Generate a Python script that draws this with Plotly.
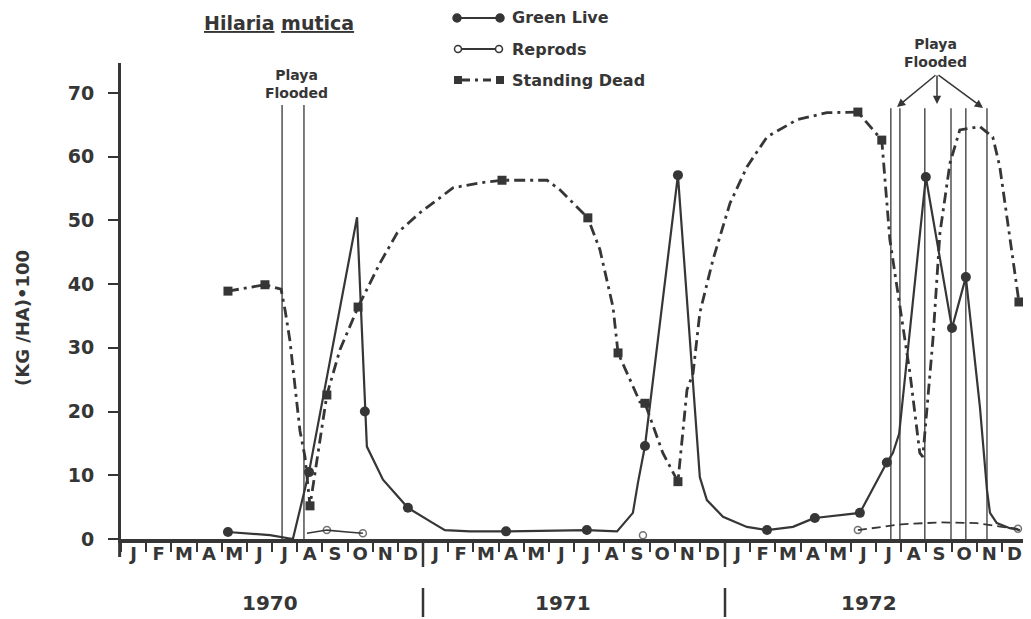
import plotly.graph_objects as go

# ---------------- data (x = months since 1 Jan 1970) ----------------
month_labels = ["J", "F", "M", "A", "M", "J", "J", "A", "S", "O", "N", "D"] * 3
year_labels = ["1970", "1971", "1972"]
year_label_pos = [5.92, 17.56, 29.72]
year_bounds = [12, 24]

green_x = [4.25, 5.92, 6.83, 7.47, 9.38, 9.69, 9.77, 10.41, 11.40, 12.40, 12.87, 13.87,
           15.30, 18.51, 19.71, 20.34, 20.54, 20.82, 22.13, 23.00, 23.28, 23.92, 24.87,
           25.67, 26.70, 27.37, 27.57, 29.36, 30.43, 30.67, 30.92, 31.98, 33.02, 33.57,
           33.85, 34.13, 34.41, 34.53, 34.80, 35.32, 35.72]
green_y = [1.1, 0.6, 0.0, 10.5, 50.5, 20.0, 14.5, 9.3, 4.9, 2.5, 1.4, 1.2,
           1.2, 1.4, 1.2, 4.1, 8.8, 14.6, 57.1, 9.7, 6.1, 3.5, 1.9,
           1.4, 1.9, 3.0, 3.3, 4.1, 12.0, 13.5, 16.5, 56.8, 33.1, 41.1,
           31.2, 20.7, 7.7, 4.1, 2.5, 1.7, 1.4]
green_mark = [1, 0, 0, 1, 0, 1, 0, 0, 1, 0, 0, 0,
              1, 1, 0, 0, 0, 1, 1, 0, 0, 0, 0,
              1, 0, 0, 1, 1, 1, 0, 0, 1, 1, 1,
              0, 0, 0, 0, 0, 0, 0]

repro_x1 = [7.39, 8.18, 8.98, 9.61, None, 20.74]
repro_y1 = [0.9, 1.4, 1.1, 0.9, None, 0.6]
repro_mark1 = [0, 1, 0, 1, 0, 1]
repro_x2 = [29.28, 31.0, 32.5, 34.0, 35.0, 35.64]
repro_y2 = [1.4, 2.3, 2.6, 2.5, 1.9, 1.6]
repro_mark2 = [1, 0, 0, 0, 0, 1]

dead_x = [4.25, 5.72, 6.36, 6.52, 6.71, 6.91, 7.11, 7.31, 7.51, 8.18, 8.70, 9.42,
          10.29, 10.97, 11.88, 13.19, 14.26, 15.14, 16.93, 17.44, 18.24, 18.55, 19.03,
          19.55, 19.75, 20.62, 20.82, 21.53, 22.13, 22.49, 22.73, 23.00, 23.52, 24.20,
          24.87, 25.67, 26.86, 28.05, 29.28, 30.15, 30.23, 30.55, 31.07, 31.35, 31.74,
          31.86, 32.26, 32.54, 32.94, 33.33, 34.13, 34.64, 34.92, 35.32, 35.68]
dead_y = [38.9, 39.9, 39.2, 35.9, 31.2, 24.5, 17.0, 12.9, 5.2, 22.6, 29.7, 36.4,
          43.3, 48.0, 51.2, 55.1, 55.9, 56.3, 56.3, 54.8, 51.6, 50.4, 45.4,
          36.4, 29.2, 21.5, 21.3, 13.5, 9.0, 23.4, 26.0, 35.5, 43.8, 52.7,
          58.4, 63.1, 65.8, 66.9, 67.0, 63.1, 62.6, 47.0, 33.3, 26.0, 13.5,
          12.9, 31.2, 48.0, 59.0, 64.2, 64.7, 63.1, 58.4, 47.0, 37.2]
dead_mark = [1, 1, 0, 0, 0, 0, 0, 0, 1, 1, 0, 1,
             0, 0, 0, 0, 0, 1, 0, 0, 0, 1, 0,
             0, 1, 0, 1, 0, 1, 0, 0, 0, 0, 0,
             0, 0, 0, 0, 1, 0, 1, 0, 0, 0, 0,
             0, 0, 0, 0, 0, 0, 0, 0, 0, 1]

flood_1970 = [6.40, 7.27]
flood_1972 = [30.59, 30.95, 31.94, 32.98, 33.57, 34.41]

y_ticks = [0, 10, 20, 30, 40, 50, 60, 70]

# ---------------- styling / layout ----------------
# page body has an 8px margin, so the figure is shifted by that amount
OFF = 8
PL, PR, PT, PB = 121, 1027, 63, 539          # plot area in window pixels
W, H = 1031 - OFF, 619 - OFF
ML, MT = PL - OFF, PT - OFF
MR = W - (PR - OFF)
MB = H - (PB - OFF)
PW, PH = PR - PL, PB - PT
INK = "#363636"
FONT = "DejaVu Sans"


def px(xp):
    return (xp - PL) / PW


def py(yp):
    return (PB - yp) / PH


fig = go.Figure()

fig.add_trace(go.Scatter(
    x=green_x, y=green_y, mode="lines+markers",
    line=dict(color=INK, width=2.2),
    marker=dict(symbol="circle", color=INK, opacity=1,
                size=[10 if m else 0 for m in green_mark], line=dict(width=0)),
    cliponaxis=False, showlegend=False, hoverinfo="skip"))

fig.add_trace(go.Scatter(
    x=dead_x, y=dead_y, mode="lines+markers",
    line=dict(color=INK, width=2.8, dash="11px,5px,3px,5px"),
    marker=dict(symbol="square", color=INK, opacity=1,
                size=[9 if m else 0 for m in dead_mark], line=dict(width=0)),
    cliponaxis=False, showlegend=False, hoverinfo="skip"))

fig.add_trace(go.Scatter(
    x=repro_x1, y=repro_y1, mode="lines+markers", connectgaps=False,
    line=dict(color=INK, width=1.6),
    marker=dict(symbol="circle-open", color=INK, size=[7 if m else 0 for m in repro_mark1],
                line=dict(width=1.5)),
    cliponaxis=False, showlegend=False, hoverinfo="skip"))

fig.add_trace(go.Scatter(
    x=repro_x2, y=repro_y2, mode="lines+markers",
    line=dict(color=INK, width=1.8, dash="9px,5px"),
    marker=dict(symbol="circle-open", color=INK, size=[7 if m else 0 for m in repro_mark2],
                line=dict(width=1.5)),
    cliponaxis=False, showlegend=False, hoverinfo="skip"))

shapes = []
# flood lines
for xv in flood_1970:
    shapes.append(dict(type="line", xref="x", yref="y", x0=xv, x1=xv, y0=0, y1=68.1,
                       line=dict(color=INK, width=1.3)))
for xv in flood_1972:
    shapes.append(dict(type="line", xref="x", yref="y", x0=xv, x1=xv, y0=0, y1=67.6,
                       line=dict(color=INK, width=1.3)))
# y-axis extension below zero and year boundary ticks
shapes.append(dict(type="line", xref="paper", yref="paper", x0=-0.0015, x1=-0.0015,
                   y0=0, y1=py(557), line=dict(color=INK, width=3)))
for xv in year_bounds:
    shapes.append(dict(type="line", xref="x", yref="paper", x0=xv, x1=xv,
                       y0=0, y1=py(567), line=dict(color=INK, width=2.5)))
    shapes.append(dict(type="line", xref="x", yref="paper", x0=xv, x1=xv,
                       y0=py(588), y1=py(617), line=dict(color=INK, width=2.5)))


# manual legend samples
def circle(xc, yc, r, filled):
    return dict(type="circle", xref="paper", yref="paper", xsizemode="pixel", ysizemode="pixel",
                xanchor=px(xc), yanchor=py(yc), x0=-r, x1=r, y0=-r, y1=r,
                fillcolor=INK if filled else "white", line=dict(color=INK, width=1.5))


def square(xc, yc, r):
    return dict(type="rect", xref="paper", yref="paper", xsizemode="pixel", ysizemode="pixel",
                xanchor=px(xc), yanchor=py(yc), x0=-r, x1=r, y0=-r, y1=r,
                fillcolor=INK, line=dict(color=INK, width=0))


LEG_Y = [18, 49, 80]
shapes.append(dict(type="line", xref="paper", yref="paper", x0=px(457), x1=px(500),
                   y0=py(LEG_Y[0]), y1=py(LEG_Y[0]), line=dict(color=INK, width=2)))
shapes.append(circle(457, LEG_Y[0], 4, True))
shapes.append(circle(500, LEG_Y[0], 4, True))
shapes.append(dict(type="line", xref="paper", yref="paper", x0=px(462), x1=px(495),
                   y0=py(LEG_Y[1]), y1=py(LEG_Y[1]), line=dict(color=INK, width=2)))
shapes.append(circle(458, LEG_Y[1], 3.5, False))
shapes.append(circle(499, LEG_Y[1], 3.5, False))
shapes.append(dict(type="line", xref="paper", yref="paper", x0=px(462), x1=px(496),
                   y0=py(LEG_Y[2]), y1=py(LEG_Y[2]),
                   line=dict(color=INK, width=2.8, dash="8px,5px,3px,5px")))
shapes.append(square(458, LEG_Y[2], 4))
shapes.append(square(500, LEG_Y[2], 4))

annotations = []
bold = dict(family=FONT, color=INK, weight="bold")
for txt, yy in zip(["Green Live", "Reprods", "Standing Dead"], LEG_Y):
    annotations.append(dict(text=txt, xref="paper", yref="paper", x=px(510), y=py(yy),
                            xanchor="left", yanchor="middle", showarrow=False,
                            font=dict(size=16, **bold)))
annotations.append(dict(text="<u>Hilaria</u> <u>mutica</u>", xref="paper", yref="paper",
                        x=px(279), y=py(23), xanchor="center", yanchor="middle",
                        showarrow=False, font=dict(size=19, **bold)))
annotations.append(dict(text="(KG /HA)•100", xref="paper", yref="paper", x=px(22), y=py(318),
                        xanchor="center", yanchor="middle", textangle=-90, showarrow=False,
                        font=dict(size=18, **bold)))
for txt, xv in zip(year_labels, year_label_pos):
    annotations.append(dict(text=txt, xref="x", yref="paper", x=xv, y=py(603),
                            xanchor="center", yanchor="middle", showarrow=False,
                            font=dict(size=20, **bold)))
annotations.append(dict(text="Playa<br>Flooded", xref="paper", yref="paper", x=px(296), y=py(84),
                        xanchor="center", yanchor="middle", showarrow=False,
                        font=dict(size=14, **bold)))
annotations.append(dict(text="Playa<br>Flooded", xref="paper", yref="paper", x=px(935), y=py(53),
                        xanchor="center", yanchor="middle", showarrow=False,
                        font=dict(size=14, **bold)))
for tx, ty, ax, ay in [(897, 107, 40, -33), (937, 104, 0, -30), (983, 108, -46, -34)]:
    annotations.append(dict(text="", xref="paper", yref="paper", x=px(tx), y=py(ty),
                            ax=ax, ay=ay, showarrow=True, arrowhead=2, arrowsize=1.1,
                            arrowwidth=1.5, arrowcolor=INK, standoff=0, startstandoff=0))

fig.update_layout(
    width=W, height=H, margin=dict(l=ML, r=MR, t=MT, b=MB, autoexpand=False),
    paper_bgcolor="white", plot_bgcolor="white",
    shapes=shapes, annotations=annotations, showlegend=False,
    xaxis=dict(range=[0, 36], showgrid=False, zeroline=False, showline=True,
               linewidth=4, linecolor=INK,
               tickmode="array", tickvals=[i + 0.5 for i in range(36)], ticktext=month_labels,
               ticks="", ticklabelstandoff=-5, tickfont=dict(size=18, **bold),
               minor=dict(tickmode="linear", tick0=0, dtick=1, ticks="outside",
                          ticklen=9, tickwidth=1.5, tickcolor=INK, showgrid=False)),
    yaxis=dict(range=[0, 74.7], showgrid=False, zeroline=False, showline=True,
               linewidth=3, linecolor=INK, tickmode="array", tickvals=y_ticks,
               ticks="outside", ticklen=10, tickwidth=2, tickcolor=INK,
               ticklabelstandoff=10, tickfont=dict(size=19, **bold)),
)

fig.write_html("out.html")
